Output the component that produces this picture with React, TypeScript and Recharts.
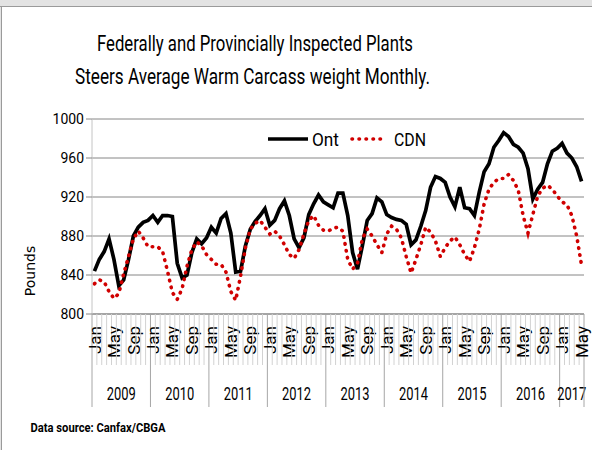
import React from 'react';
import { LineChart, Line, XAxis, YAxis, CartesianGrid } from 'recharts';

const MONTHS = ['Jan', 'Feb', 'Mar', 'Apr', 'May', 'Jun', 'Jul', 'Aug', 'Sep', 'Oct', 'Nov', 'Dec'];
const YEARS = ['2009', '2010', '2011', '2012', '2013', '2014', '2015', '2016', '2017'];
const LABELED_MONTHS = ['Jan', 'May', 'Sep'];
const Y_TICKS = [800, 840, 880, 920, 960, 1000];

// Jan 2009 .. May 2017
const ONT = [
  844, 856, 864, 877, 856, 829, 835, 856, 880, 889, 894, 896,
  901, 894, 901, 901, 900, 852, 837, 840, 863, 877, 872, 878,
  889, 883, 898, 903, 883, 843, 844, 870, 887, 895, 901, 908,
  891, 896, 908, 916, 901, 877, 868, 878, 902, 913, 922, 915,
  912, 909, 924, 924, 901, 863, 846, 870, 896, 903, 919, 915,
  902, 899, 897, 896, 892, 871, 876, 890, 906, 930, 941, 939,
  935, 920, 910, 930, 909, 908, 901, 925, 946, 954, 971, 978,
  986, 982, 974, 971, 965, 949, 918, 928, 935, 954, 967, 970,
  975, 965, 960, 951, 936,
];
const CDN = [
  831, 835, 833, 823, 816, 821, 841, 859, 877, 885, 878, 869,
  869, 869, 864, 844, 822, 815, 826, 849, 866, 874, 870, 861,
  856, 851, 851, 843, 823, 814, 839, 868, 887, 893, 896, 889,
  882, 885, 880, 871, 861, 857, 866, 882, 896, 901, 891, 886,
  885, 888, 889, 885, 856, 846, 852, 877, 887, 880, 871, 863,
  882, 890, 887, 878, 859, 842, 856, 871, 889, 884, 875, 859,
  868, 875, 879, 871, 861, 854, 868, 887, 913, 928, 935, 939,
  939, 943, 937, 927, 901, 883, 902, 921, 929, 932, 928, 921,
  915, 912, 901, 880, 850,
];

const data = ONT.map((v, i) => ({
  i,
  month: MONTHS[i % 12],
  year: YEARS[Math.floor(i / 12)],
  ont: v,
  cdn: CDN[i],
}));
const X_TICKS = data.map((d) => d.i);

const W = 592;
const H = 450;
const PLOT_LEFT = 92;
const PLOT_RIGHT = 584;
const BW = (PLOT_RIGHT - PLOT_LEFT) / data.length;
const FONT = 'Roboto, "Liberation Sans", sans-serif';

const XTick = (props: any) => {
  const { x, y, payload } = props;
  const i = payload.value as number;
  const d = data[i];
  if (!d) return null;
  const left = x - BW / 2;
  const m = i % 12;
  const els: any[] = [];
  if (m === 0) {
    els.push(<line key="ys" x1={left} x2={left} y1={y} y2={y + 93} stroke="#a6a6a6" strokeWidth={1} />);
    const n = data.filter((e) => e.year === d.year).length;
    els.push(
      <text key="yl" x={left + (n * BW) / 2} y={y + 86} textAnchor="middle" fontFamily={FONT} fontSize={18} fill="#000" textLength={29} lengthAdjust="spacingAndGlyphs">
        {d.year}
      </text>
    );
  } else {
    els.push(<line key="ms" x1={left} x2={left} y1={y} y2={y + 51} stroke="#d2d2d2" strokeWidth={1} />);
  }
  if (i === data.length - 1) {
    els.push(<line key="end" x1={x + BW / 2} x2={x + BW / 2} y1={y} y2={y + 93} stroke="#a6a6a6" strokeWidth={1} />);
  }
  if (LABELED_MONTHS.includes(d.month)) {
    els.push(
      <text key="ml" x={x} y={y + 12} dy="0.36em" transform={`rotate(-90, ${x}, ${y + 12})`} textAnchor="end" fontFamily={FONT} fontSize={17} fill="#000">
        {d.month}
      </text>
    );
  }
  return <g>{els}</g>;
};

export default function App() {
  return (
    <div style={{ position: 'absolute', left: 0, top: 0, width: W, height: H, background: '#fff' }}>
      <LineChart width={W} height={H} data={data} margin={{ top: 119, right: W - PLOT_RIGHT, bottom: 0, left: 0 }}>
        <CartesianGrid vertical={false} stroke="#868686" strokeWidth={1} />
        <XAxis
          dataKey="i"
          type="number"
          domain={[-0.5, data.length - 0.5]}
          ticks={X_TICKS}
          interval={0}
          tick={<XTick />}
          tickLine={false}
          tickSize={0}
          tickMargin={0}
          axisLine={{ stroke: '#868686' }}
          height={136}
        />
        <YAxis
          domain={[800, 1000]}
          ticks={Y_TICKS}
          interval={0}
          width={PLOT_LEFT}
          tickSize={6}
          tickMargin={2}
          axisLine={{ stroke: '#c4c4c4' }}
          tickLine={{ stroke: '#868686' }}
          tick={{ fontFamily: FONT, fontSize: 14, fill: '#000' }}
        />
        <Line type="linear" dataKey="ont" stroke="#000" strokeWidth={3.7} dot={false} activeDot={false} isAnimationActive={false} />
        <Line
          type="linear"
          dataKey="cdn"
          stroke="#d00000"
          strokeWidth={3.6}
          strokeDasharray="0.5 6.5"
          strokeLinecap="round"
          dot={false}
          activeDot={false}
          isAnimationActive={false}
        />
      </LineChart>
      <svg width={W} height={H} style={{ position: 'absolute', left: 0, top: 0, pointerEvents: 'none' }}>
        <rect x={0} y={0} width={W} height={6} fill="#e3e3e3" />
        <rect x={0} y={0} width={1} height={H} fill="#e3e3e3" />
        <line x1={0} x2={W} y1={6.5} y2={6.5} stroke="#9a9a9a" />
        <line x1={1.5} x2={1.5} y1={6} y2={H} stroke="#9a9a9a" />
        <text x={97} y={51} fontFamily={FONT} fontSize={22} fill="#000" textLength={316} lengthAdjust="spacingAndGlyphs">
          Federally and Provincially Inspected Plants
        </text>
        <text x={75} y={84} fontFamily={FONT} fontSize={22} fill="#000" textLength={355} lengthAdjust="spacingAndGlyphs">
          Steers Average Warm Carcass weight Monthly.
        </text>
        <line x1={268} x2={308} y1={139} y2={139} stroke="#000" strokeWidth={3.7} />
        <text x={312} y={146} fontFamily={FONT} fontSize={18} fill="#000" textLength={27} lengthAdjust="spacingAndGlyphs">Ont</text>
        <line x1={352} x2={387} y1={139} y2={139} stroke="#d00000" strokeWidth={3.6} strokeDasharray="0.5 6.5" strokeLinecap="round" />
        <text x={394} y={146} fontFamily={FONT} fontSize={18} fill="#000" textLength={32} lengthAdjust="spacingAndGlyphs">CDN</text>
        <text x={30} y={271} transform="rotate(-90, 30, 271)" textAnchor="middle" dy="0.36em" fontFamily='"DejaVu Sans", sans-serif' fontSize={14} fill="#000">
          Pounds
        </text>
        <text x={30.5} y={432} fontFamily={FONT} fontWeight="bold" fontSize={13.5} fill="#000" textLength={135} lengthAdjust="spacingAndGlyphs">
          Data source: Canfax/CBGA
        </text>
      </svg>
    </div>
  );
}
